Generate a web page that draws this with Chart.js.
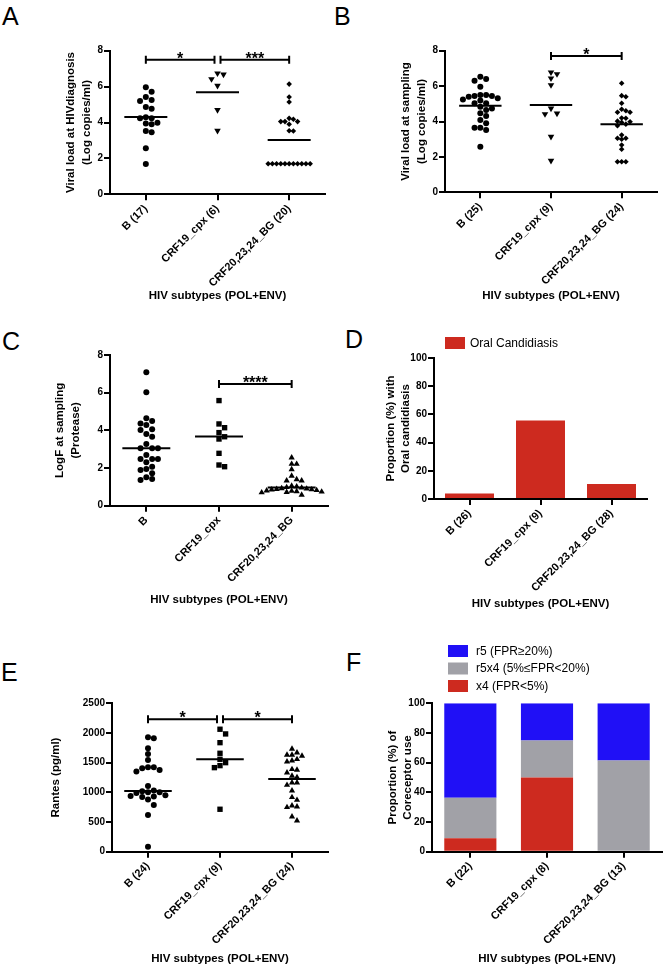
<!DOCTYPE html>
<html><head><meta charset="utf-8">
<script src="https://cdn.jsdelivr.net/npm/chart.js@4.4.1/dist/chart.umd.min.js"></script>
<style>
html,body{margin:0;padding:0;background:#fff}
body{width:664px;height:968px;position:relative;overflow:hidden;font-family:"Liberation Sans",Arial,sans-serif}
canvas{position:absolute}
.lab{position:absolute;font-size:25px;line-height:25px;color:#000;font-family:"Liberation Sans",Arial,sans-serif}
</style></head><body>
<div class="lab" style="left:2px;top:4px">A</div>
<div class="lab" style="left:334px;top:4px">B</div>
<div class="lab" style="left:2px;top:329px">C</div>
<div class="lab" style="left:345px;top:327px">D</div>
<div class="lab" style="left:1px;top:660px">E</div>
<div class="lab" style="left:346px;top:650px">F</div>
<canvas id="cA" width="332" height="305" style="left:0;top:0"></canvas>
<canvas id="cB" width="332" height="305" style="left:332px;top:0"></canvas>
<canvas id="cC" width="332" height="309" style="left:0;top:300px"></canvas>
<canvas id="cD" width="332" height="313" style="left:332px;top:300px"></canvas>
<canvas id="cE" width="332" height="348" style="left:0;top:620px"></canvas>
<canvas id="cF" width="332" height="348" style="left:332px;top:620px"></canvas>
<script>
// ---------- DATA ----------
const xTitle = 'HIV subtypes (POL+ENV)';

// A: viral load at HIV diagnosis (log copies/ml)
const catA = ['B (17)', 'CRF19_cpx (6)', 'CRF20,23,24_BG (20)'];
const vlDiagB = [5.96, 5.72, 5.42, 5.25, 5.2, 4.86, 4.77, 4.29, 4.23, 4.23, 3.99, 3.95, 3.9, 3.53, 3.45, 2.56, 1.69];
const vlDiagCRF19 = [6.74, 6.68, 6.42, 6.05, 4.7, 3.54];
const vlDiagCRF20 = [6.14, 5.42, 5.14, 4.23, 4.18, 4.05, 4.05, 4.05, 3.9, 3.54, 3.53, 1.7, 1.7, 1.7, 1.7, 1.7, 1.7, 1.7, 1.7, 1.7, 1.7, 1.7];
const medianA = [4.3, 5.68, 3.02];
const sigA = [[0, 1, 7.5, '*'], [1, 2, 7.5, '***']];

// B: viral load at sampling
const catB = ['B (25)', 'CRF19_cpx (9)', 'CRF20,23,24_BG (24)'];
const vlSampB = [6.53, 6.4, 6.3, 5.97, 5.5, 5.5, 5.44, 5.44, 5.4, 5.31, 5.25, 5.18, 5.03, 5.03, 4.84, 4.74, 4.65, 4.46, 4.31, 4.08, 3.9, 3.65, 3.65, 3.52, 2.58];
const vlSampCRF19 = [6.78, 6.68, 6.44, 6.06, 4.74, 4.46, 4.42, 3.14, 1.79];
const vlSampCRF20 = [6.16, 5.46, 5.4, 5.03, 4.69, 4.61, 4.52, 4.52, 4.2, 4.18, 4.02, 3.99, 3.95, 3.85, 3.76, 3.24, 3.05, 3.05, 3.0, 2.67, 2.43, 1.73, 1.73, 1.73];
const medianB = [4.89, 4.93, 3.84];
const sigB = [[1, 2, 7.7, '*']];

// C: LogF at sampling (Protease)
const catC = ['B', 'CRF19_cpx', 'CRF20,23,24_BG'];
const logfB = [7.08, 6.02, 4.64, 4.5, 4.37, 4.28, 4.06, 4.02, 3.81, 3.66, 3.28, 3.05, 3.05, 3.05, 2.69, 2.48, 2.48, 2.48, 2.3, 2.07, 1.95, 1.9, 1.72, 1.51, 1.42, 1.36];
const logfCRF19 = [5.58, 4.34, 4.14, 3.88, 3.66, 3.54, 2.78, 2.16, 2.07];
const logfCRF20 = [2.55, 2.21, 2.21, 1.93, 1.58, 1.4, 1.33, 1.33, 1.05, 1.02, 0.98, 0.95, 0.92, 0.9, 0.88, 0.86, 0.85, 0.82, 0.8, 0.78, 0.76, 0.74, 0.72, 0.7, 0.57];
const medianC = [3.05, 3.68, 0.96];
const sigC = [[1, 2, 6.46, '****']];

// D: oral candidiasis proportion (%)
const catD = ['B (26)', 'CRF19_cpx (9)', 'CRF20,23,24_BG (28)'];
const oralCand = [3.85, 55.6, 10.7];

// E: Rantes (pg/ml)
const catE = ['B (24)', 'CRF19_cpx (9)', 'CRF20,23,24_BG (24)'];
const rantesB = [1929, 1911, 1743, 1647, 1546, 1423, 1423, 1406, 1377, 1349, 1108, 1030, 1020, 1000, 1000, 990, 950, 940, 930, 920, 880, 787, 618, 84];
const rantesCRF19 = [2063, 1984, 1837, 1658, 1557, 1500, 1450, 1416, 715];
const rantesCRF20 = [1731, 1669, 1630, 1630, 1613, 1557, 1534, 1517, 1389, 1377, 1332, 1276, 1254, 1163, 1163, 1124, 1028, 917, 871, 776, 760, 748, 590, 523];
const medianE = [1023, 1557, 1225];
const sigE = [[0, 1, 2230, '*'], [1, 2, 2230, '*']];

// F: coreceptor use (%)
const catF = ['B (22)', 'CRF19_cpx (8)', 'CRF20,23,24_BG (13)'];
const coreX4 = [9.1, 50, 0];
const coreR5X4 = [27.3, 25, 61.5];
const coreR5 = [63.6, 25, 38.5];

// ---------- STYLE ----------
Chart.defaults.color = '#000';
Chart.defaults.font.family = '"Liberation Sans", Arial, sans-serif';
const YTICKF = {size: 10, weight: 'bold'};
const XTICKF = {size: 11, weight: 'bold'};
const XTITLEF = {size: 11.5, weight: 'bold', lineHeight: 1.2};
const RED = '#cd2a1f', BLUE = '#2010f6', GRAY = '#a1a1a7';
const MK = {
  circle: {pointStyle: 'circle', r: 3.0, rot: 0, d: 5.8},
  down: {pointStyle: 'triangle', r: 3.8, rot: 180, d: 6.0},
  diamond: {pointStyle: 'rectRot', r: 2.8, rot: 0, d: 4.2},
  square: {pointStyle: 'rect', r: 3.8, rot: 0, d: 5.6},
  up: {pointStyle: 'triangle', r: 3.6, rot: 0, d: 5.0}
};

const annot = {
  id: 'annot',
  afterDatasetsDraw(chart, args, o) {
    const {ctx} = chart; const x = chart.scales.x, y = chart.scales.y;
    ctx.save(); ctx.strokeStyle = '#000'; ctx.fillStyle = '#000'; ctx.lineWidth = 2;
    (o.medians || []).forEach((m, i) => {
      const py = y.getPixelForValue(m);
      ctx.beginPath(); ctx.moveTo(x.getPixelForValue(i - o.half), py); ctx.lineTo(x.getPixelForValue(i + o.half), py); ctx.stroke();
    });
    const br = o.brackets || [];
    br.forEach(b => {
      const shared = idx => br.filter(c => c !== b && (c[0] === idx || c[1] === idx)).length > 0;
      const x0 = x.getPixelForValue(b[0]) + (shared(b[0]) ? 3 : 0);
      const x1 = x.getPixelForValue(b[1]) - (shared(b[1]) ? 3 : 0);
      const py = y.getPixelForValue(b[2]);
      ctx.beginPath(); ctx.moveTo(x0, py); ctx.lineTo(x1, py);
      ctx.moveTo(x0, py - 4); ctx.lineTo(x0, py + 4);
      ctx.moveTo(x1, py - 4); ctx.lineTo(x1, py + 4); ctx.stroke();
      ctx.font = 'bold 16px "Liberation Sans", Arial, sans-serif';
      ctx.textAlign = 'center'; ctx.textBaseline = 'alphabetic';
      ctx.fillText(b[3], (x0 + x1) / 2, py + 4);
    });
    ctx.restore();
  }
};

const boxLegend = {
  id: 'boxLegend',
  afterDraw(chart, args, o) {
    if (!o.items) return;
    const ctx = chart.ctx; ctx.save();
    ctx.font = '12px "Liberation Sans", Arial, sans-serif';
    ctx.textBaseline = 'middle'; ctx.textAlign = 'left';
    o.items.forEach((di, k) => {
      const ds = chart.data.datasets[di];
      const yy = o.y + k * o.step;
      ctx.fillStyle = ds.backgroundColor; ctx.fillRect(o.x, yy, 20, 12);
      ctx.fillStyle = '#000'; ctx.fillText(ds.label, o.x + o.gap, yy + 6.5);
    });
    ctx.restore();
  }
};

function yScale(g, max, step, title) {
  return {
    type: 'linear', min: 0, max: max,
    afterFit(s) { s.width = g.yW; },
    ticks: {stepSize: step, font: YTICKF, padding: 1, color: '#000', callback: v => String(v)},
    grid: {drawOnChartArea: false, drawTicks: true, tickLength: 6, lineWidth: 2, color: '#000'},
    border: {display: true, color: '#000', width: 2},
    title: {display: true, text: title, font: {size: 11.5, weight: 'bold', lineHeight: g.tlh || 1.4},
      padding: {top: 4, bottom: 0}, color: '#000'}
  };
}
function xCommon(g) {
  return {
    afterFit(s) { s.height = g.xH; },
    grid: {drawOnChartArea: false, drawTicks: true, tickLength: 6, lineWidth: 2, color: '#000', offset: false},
    border: {display: true, color: '#000', width: 2},
    title: {display: true, text: xTitle, font: XTITLEF, padding: {top: 0, bottom: 2}, color: '#000'}
  };
}

function swarm(chart) {
  const xs = chart.scales.x, ys = chart.scales.y;
  const ppx = xs.getPixelForValue(1) - xs.getPixelForValue(0);
  chart.data.datasets.forEach((ds, gi) => {
    const vals = ds.vals, d = ds.swarmD, placed = [];
    const order = vals.map((v, i) => i).sort((a, b) => vals[b] - vals[a]);
    order.forEach(i => {
      const py = ys.getPixelForValue(vals[i]);
      let off = 0;
      for (let s = 0; s < 60; s++) {
        off = s === 0 ? 0 : (s % 2 ? 1 : -1) * Math.ceil(s / 2) * d;
        if (placed.every(p => Math.hypot(p.x - off, p.y - py) >= d * 0.97)) break;
      }
      placed.push({x: off, y: py});
      ds.data[i] = {x: gi + off / ppx, y: vals[i]};
    });
  });
  chart.update('none');
}

function scatterPanel(id, g, cats, series, marks, medians, brackets, yMax, yStep, yTitle) {
  const datasets = series.map((vals, gi) => {
    const m = MK[marks[gi]];
    return {
      label: cats[gi], vals: vals, swarmD: m.d,
      data: vals.map(v => ({x: gi, y: v})),
      pointStyle: m.pointStyle, pointRadius: m.r, pointRotation: m.rot,
      pointBackgroundColor: '#000', pointBorderColor: '#000', pointBorderWidth: 0,
      showLine: false, clip: false
    };
  });
  const xs = Object.assign(xCommon(g), {
    type: 'linear', min: -0.5, max: 2.5,
    afterBuildTicks(s) { s.ticks = cats.map((c, i) => ({value: i})); },
    ticks: {autoSkip: false, minRotation: 45, maxRotation: 45, font: XTICKF, padding: 2, color: '#000',
      callback: v => cats[v]}
  });
  const ch = new Chart(document.getElementById(id), {
    type: 'scatter',
    data: {datasets},
    options: {
      responsive: false, animation: false, events: [],
      layout: {padding: {left: g.pl, top: g.pt, right: g.pr, bottom: 0}},
      scales: {x: xs, y: yScale(g, yMax, yStep, yTitle)},
      plugins: {legend: {display: false}, tooltip: {enabled: false},
        annot: {medians: medians, brackets: brackets, half: g.half}}
    },
    plugins: [annot]
  });
  swarm(ch);
  return ch;
}

function barPanel(id, g, cats, dsets, stacked, yTitle, legendOpt) {
  const xs = Object.assign(xCommon(g), {
    type: 'category', stacked: stacked,
    ticks: {autoSkip: false, minRotation: 45, maxRotation: 45, font: XTICKF, padding: 2, color: '#000'}
  });
  const ys = yScale(g, 100, 20, yTitle); ys.stacked = stacked;
  return new Chart(document.getElementById(id), {
    type: 'bar',
    data: {labels: cats, datasets: dsets.map(d => Object.assign({barPercentage: g.bp, categoryPercentage: 1, borderWidth: 0}, d))},
    options: {
      responsive: false, animation: false, events: [],
      layout: {padding: {left: g.pl, top: g.pt, right: g.pr, bottom: 0}},
      scales: {x: xs, y: ys},
      plugins: {legend: {display: false}, tooltip: {enabled: false}, boxLegend: legendOpt}
    },
    plugins: [boxLegend]
  });
}

// ---------- PANELS ----------
scatterPanel('cA', {pl: 59, yW: 51, pt: 50.7, pr: 7, xH: 110.7, half: 0.3}, catA,
  [vlDiagB, vlDiagCRF19, vlDiagCRF20], ['circle', 'down', 'diamond'], medianA, sigA, 8, 2,
  ['Viral load at HIVdiagnosis', '(Log copies/ml)']);
scatterPanel('cB', {pl: 62, yW: 51, pt: 50.7, pr: 7, xH: 112.7, half: 0.3}, catB,
  [vlSampB, vlSampCRF19, vlSampCRF20], ['circle', 'down', 'diamond'], medianB, sigB, 8, 2,
  ['Viral load at sampling', '(Log copies/ml)']);
scatterPanel('cC', {pl: 48, yW: 62, pt: 55, pr: 0, xH: 103.3, half: 0.33}, catC,
  [logfB, logfCRF19, logfCRF20], ['circle', 'square', 'up'], medianC, sigC, 8, 2,
  ['LogF at sampling', '(Protease)']);
barPanel('cD', {pl: 48, yW: 54, pt: 58, pr: 17, xH: 114, bp: 0.69, tlh: 1.25}, catD,
  [{label: 'Oral Candidiasis', data: oralCand, backgroundColor: RED}], false,
  ['Proportion (%) with', 'Oral candidiasis'], {items: [0], x: 113, y: 37, step: 17.5, gap: 25});
scatterPanel('cE', {pl: 44, yW: 68, pt: 83.3, pr: 0, xH: 116.3, half: 0.33}, catE,
  [rantesB, rantesCRF19, rantesCRF20], ['circle', 'square', 'up'], medianE, sigE, 2500, 500,
  'Rantes (pg/ml)');
barPanel('cF', {pl: 50, yW: 50, pt: 83.3, pr: 2, xH: 116.3, bp: 0.68, tlh: 1.25}, catF,
  [{label: 'x4 (FPR<5%)', data: coreX4, backgroundColor: RED},
   {label: 'r5x4 (5%\u2264FPR<20%)', data: coreR5X4, backgroundColor: GRAY},
   {label: 'r5 (FPR\u226520%)', data: coreR5, backgroundColor: BLUE}], true,
  ['Proportion (%) of', 'Coreceptor use'], {items: [2, 1, 0], x: 116, y: 25, step: 17.5, gap: 28});
</script>
</body></html>
